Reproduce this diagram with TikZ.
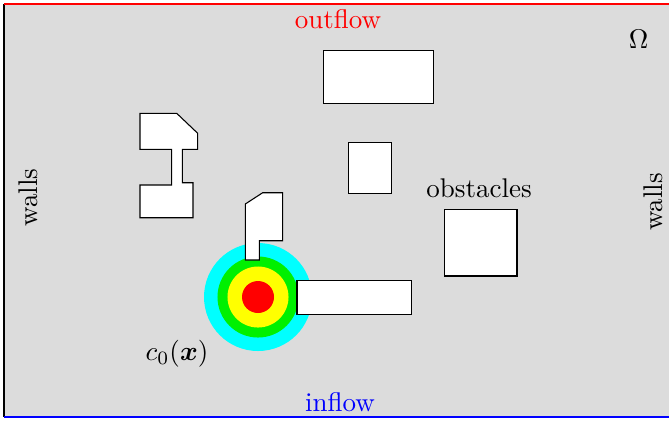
\documentclass[tikz,border=0pt]{standalone}
\usepackage{amsmath}
\usepackage{bm}
\definecolor{bggray}{RGB}{220,220,220}
\definecolor{ccyan}{RGB}{0,255,255}
\definecolor{cgreen}{RGB}{0,240,0}
\definecolor{cyellow}{RGB}{255,255,0}
\definecolor{cred}{RGB}{255,0,0}
\begin{document}
\begin{tikzpicture}[x=0.37pt,y=-0.37pt,
  obst/.style={fill=white,draw=black,line width=0.4pt},
  lbl/.style={inner sep=0pt,anchor=base}]
\useasboundingbox (0,0) rectangle (669,420);
% domain
\fill[bggray] (4,4) rectangle (669,417);
\draw[black] (4,4) -- (4,417);
\draw[red] (4,4) -- (669,4);
\draw[blue] (4,417) -- (669,417);
% initial concentration
\fill[ccyan] (258,297) circle[radius=19.98pt];
\fill[cgreen] (258,297) circle[radius=14.99pt];
\fill[cyellow] (258,297) circle[radius=11.29pt];
\fill[cred] (258,297) circle[radius=5.92pt];
% obstacles
\draw[obst] (140,113.3) -- (176.7,113.3) -- (197.7,133.3) -- (197.7,149.3) -- (182.3,149.3) -- (182.3,182.7) -- (193,182.7) -- (193,217.7) -- (140,217.7) -- (140,185) -- (171.7,185) -- (171.7,149.3) -- (140,149.3) -- cycle;
\draw[obst] (245.3,260) -- (245.3,204) -- (262.7,192.7) -- (282.7,192.7) -- (282.7,240.7) -- (259.3,240.7) -- (259.3,260) -- cycle;
\draw[obst] (297,280.3) rectangle (411.7,314.3);
\draw[obst] (323.7,50.3) rectangle (433.7,103.7);
\draw[obst] (348.7,142.3) rectangle (391.7,193.7);
\draw[obst] (444.3,209.3) rectangle (517,276);
% labels
\node[lbl,text=red] (outflow) at (338,28) {outflow};
\node[lbl,text=blue] (inflow) at (340,411) {inflow};
\node[lbl] (omega) at (638.5,48) {$\Omega$};
\node[lbl,rotate=90] (wallsL) at (38,197.5) {walls};
\node[lbl,rotate=90] (wallsR) at (662,202) {walls};
\node[lbl] (obstacles) at (479,197.7) {obstacles};
\node[lbl] (c0) at (177,360) {$c_0(\bm{x})$};
\end{tikzpicture}
\end{document}
